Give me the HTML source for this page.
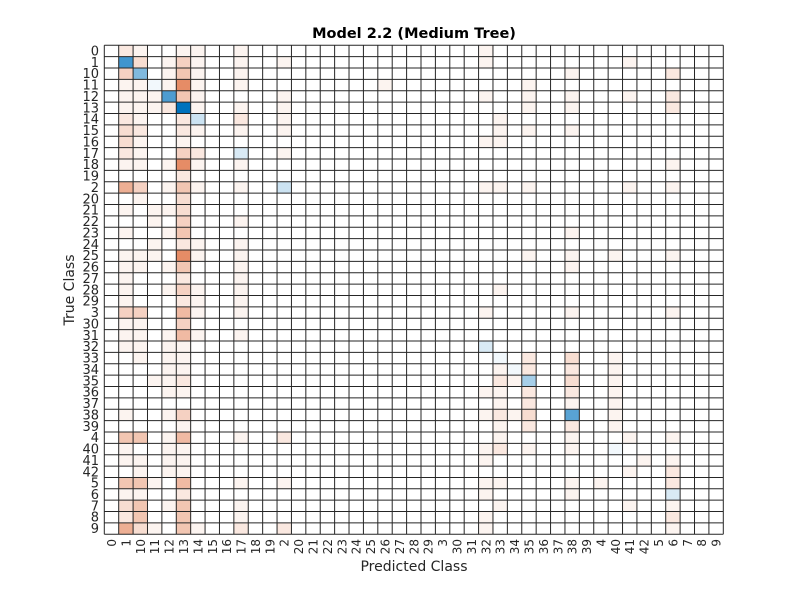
<!DOCTYPE html>
<html><head><meta charset="utf-8">
<style>
html,body{margin:0;padding:0;background:#fff;}
svg{display:block;font-family:"DejaVu Sans","Liberation Sans",sans-serif;}
</style></head>
<body>
<svg id="chart" width="800" height="600" viewBox="0 0 800 600" xmlns="http://www.w3.org/2000/svg">
<rect width="800" height="600" fill="#fff"/>
<text x="414" y="38" text-anchor="middle" font-size="14.5" font-weight="bold" fill="#000">Model 2.2 (Medium Tree)</text>
<text x="414" y="571" text-anchor="middle" font-size="14" fill="#262626">Predicted Class</text>
<text transform="translate(74,290) rotate(-90)" text-anchor="middle" font-size="14" fill="#262626">True Class</text>
<g id="cells"></g>
<g id="grid"></g>
<g id="ylabels"></g>
<g id="xlabels"></g>
</svg>
<script>
const classes = ["0","1","10","11","12","13","14","15","16","17","18","19","2","20","21","22","23","24","25","26","27","28","29","3","30","31","32","33","34","35","36","37","38","39","4","40","41","42","5","6","7","8","9"];
// [trueIndex, predictedIndex, count]
const cellCounts = [
[0,1,2],[0,2,1],[0,5,1],[0,6,1],[0,9,1],[0,26,1],
[1,1,15],[1,2,3],[1,4,1],[1,5,4],[1,6,1],[1,9,1],[1,12,1],[1,26,1],[1,36,1],
[2,1,4],[2,2,10],[2,4,1],[2,5,5],[2,6,1],[2,9,1],[2,32,1],[2,39,2],
[3,1,1],[3,2,1],[3,3,1],[3,4,1],[3,5,10],[3,6,1],[3,9,1],[3,19,1],[3,29,1],
[4,1,1],[4,2,1],[4,3,1],[4,4,14],[4,5,5],[4,6,1],[4,12,1],[4,26,1],[4,29,1],[4,32,1],[4,36,1],[4,39,2],
[5,1,1],[5,2,1],[5,3,1],[5,4,2],[5,5,20],[5,6,1],[5,9,1],[5,12,1],[5,29,1],[5,32,1],[5,39,2],
[6,1,2],[6,2,1],[6,5,2],[6,6,4],[6,9,2],[6,12,1],[6,27,1],
[7,1,3],[7,2,2],[7,5,2],[7,6,1],[7,9,1],[7,12,1],[7,27,1],[7,29,1],[7,32,1],
[8,1,3],[8,2,1],[8,5,1],[8,26,1],[8,27,1],
[9,1,2],[9,2,1],[9,5,4],[9,6,2],[9,9,3],[9,12,1],
[10,1,1],[10,2,1],[10,4,1],[10,5,10],[10,6,1],[10,9,1],[10,39,1],
[11,5,2],
[12,1,7],[12,2,4],[12,4,1],[12,5,5],[12,6,1],[12,9,1],[12,12,4],[12,26,1],[12,27,1],[12,29,1],[12,36,1],[12,39,1],
[13,2,1],[13,5,3],
[14,1,1],[14,3,1],[14,4,1],[14,5,3],
[15,3,1],[15,5,4],[15,9,1],
[16,1,1],[16,4,1],[16,5,5],[16,32,1],
[17,3,1],[17,5,2],[17,6,1],[17,9,1],
[18,1,1],[18,2,1],[18,3,1],[18,5,10],[18,6,1],[18,9,1],[18,29,1],[18,32,1],[18,35,1],[18,39,1],
[19,1,1],[19,2,1],[19,4,1],[19,5,5],[19,9,1],[19,32,1],
[20,1,1],[20,5,2],[20,9,1],
[21,1,1],[21,4,1],[21,5,4],[21,6,1],[21,9,1],[21,27,1],
[22,1,1],[22,5,2],[22,6,1],[22,9,1],
[23,1,4],[23,2,4],[23,5,6],[23,6,1],[23,9,1],[23,26,1],[23,32,1],[23,39,1],
[24,1,1],[24,2,1],[24,5,4],
[25,1,1],[25,2,1],[25,4,1],[25,5,6],[25,6,1],[25,9,1],
[26,1,1],[26,2,1],[26,4,1],[26,5,1],[26,26,3],
[27,2,1],[27,4,1],[27,5,1],[27,27,1],[27,29,2],[27,32,3],[27,35,1],
[28,4,1],[28,5,1],[28,27,1],[28,28,1],[28,29,2],[28,32,2],[28,35,1],
[29,3,1],[29,4,1],[29,5,2],[29,27,2],[29,28,1],[29,29,7],[29,32,3],[29,35,1],
[30,4,1],[30,5,1],[30,26,1],[30,27,1],[30,29,2],[30,32,2],[30,35,1],
[31,27,1],[31,29,2],[31,32,1],[31,35,1],
[32,1,1],[32,4,1],[32,5,4],[32,26,1],[32,27,2],[32,28,1],[32,29,3],[32,32,13],[32,35,1],
[33,5,1],[33,27,1],[33,29,2],[33,32,2],[33,35,1],
[34,1,5],[34,2,5],[34,4,1],[34,5,6],[34,9,1],[34,12,2],[34,27,1],[34,32,1],[34,36,1],[34,39,1],
[35,1,1],[35,4,1],[35,5,1],[35,26,1],[35,27,2],[35,29,1],[35,32,1],[35,35,1],
[36,1,1],[36,2,1],[36,4,1],[36,5,1],[36,26,1],[36,37,1],[36,39,1],
[37,2,1],[37,4,1],[37,5,1],[37,36,1],[37,39,2],
[38,1,5],[38,2,5],[38,3,1],[38,5,6],[38,9,1],[38,12,1],[38,26,1],[38,27,1],[38,32,1],[38,34,1],[38,39,2],
[39,1,1],[39,2,1],[39,5,2],[39,26,1],[39,32,1],[39,39,3],
[40,1,3],[40,2,5],[40,4,1],[40,5,5],[40,9,1],[40,27,1],[40,36,1],[40,39,1],
[41,1,2],[41,2,5],[41,5,5],[41,9,1],[41,26,1],[41,39,2],
[42,1,7],[42,2,3],[42,3,1],[42,5,5],[42,6,1],[42,9,2],[42,12,2],[42,26,1],[42,39,1]
];
const NS="http://www.w3.org/2000/svg";
const x0=104.3,y0=45.3,x1=723.3,y1=534.3;
const n=classes.length;
const cw=(x1-x0)/n, ch=(y1-y0)/n;
function xPos(i){return x0+i*cw;}
function yPos(i){return y0+i*ch;}
function mix(c,t){t=Math.min(1,t);return "rgb("+c.map(v=>Math.round(255+(v-255)*t)).join(",")+")";}
const cellsG=document.getElementById("cells");
cellCounts.forEach(([r,c,v])=>{
  const rect=document.createElementNS(NS,"rect");
  rect.setAttribute("x",xPos(c));rect.setAttribute("y",yPos(r));
  rect.setAttribute("width",cw);rect.setAttribute("height",ch);
  rect.setAttribute("fill", r===c ? mix([0,114,189],v/20) : mix([217,83,25],v/15));
  
  
  cellsG.appendChild(rect);
});
const gridG=document.getElementById("grid");
for(let i=0;i<=n;i++){
  const v=document.createElementNS(NS,"line");
  v.setAttribute("x1",xPos(i));v.setAttribute("x2",xPos(i));v.setAttribute("y1",y0);v.setAttribute("y2",y1);
  v.setAttribute("stroke","#262626");v.setAttribute("stroke-width","1");
  
  
  gridG.appendChild(v);
  const h=document.createElementNS(NS,"line");
  h.setAttribute("y1",yPos(i));h.setAttribute("y2",yPos(i));h.setAttribute("x1",x0);h.setAttribute("x2",x1);
  h.setAttribute("stroke","#262626");h.setAttribute("stroke-width","1");
  
  
  gridG.appendChild(h);
}
const yl=document.getElementById("ylabels"), xl=document.getElementById("xlabels");
classes.forEach((c,i)=>{
  const t=document.createElementNS(NS,"text");
  t.setAttribute("x",99);t.setAttribute("y",yPos(i)+ch/2+4.5);
  t.setAttribute("text-anchor","end");t.setAttribute("font-size","13");t.setAttribute("fill","#262626");
  t.textContent=c;
  
  
  yl.appendChild(t);
  const s=document.createElementNS(NS,"text");
  const cx=xPos(i)+cw/2+4.5, cy=539;
  s.setAttribute("transform","translate("+cx+","+cy+") rotate(-90)");
  s.setAttribute("text-anchor","end");s.setAttribute("font-size","12");s.setAttribute("fill","#262626");
  s.textContent=c;
  
  
  xl.appendChild(s);
});
</script>
</body></html>
